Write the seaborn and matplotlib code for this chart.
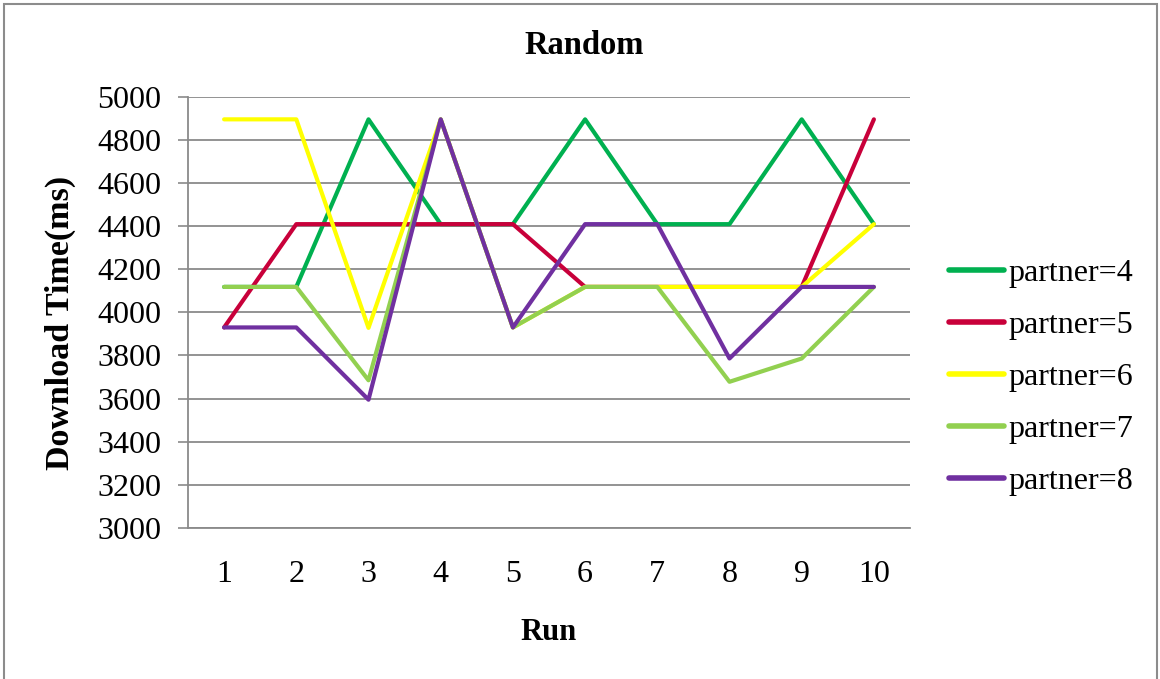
import matplotlib
matplotlib.use("Agg")
import matplotlib.pyplot as plt
from matplotlib.patches import Rectangle
import pandas as pd
import seaborn as sns

# Download time per run for each partner count
runs = [1, 2, 3, 4, 5, 6, 7, 8, 9, 10]
partner_4 = [4118, 4118, 4895, 4409, 4409, 4895, 4409, 4409, 4895, 4409]
partner_5 = [3930, 4409, 4409, 4409, 4409, 4118, 4118, 4118, 4118, 4895]
partner_6 = [4895, 4895, 3928, 4895, 3930, 4118, 4118, 4118, 4118, 4409]
partner_7 = [4118, 4118, 3685, 4895, 3930, 4118, 4118, 3678, 3786, 4118]
partner_8 = [3930, 3930, 3595, 4895, 3930, 4409, 4409, 3786, 4118, 4118]

series_names = ["partner=4", "partner=5", "partner=6", "partner=7", "partner=8"]
series_values = [partner_4, partner_5, partner_6, partner_7, partner_8]
colors = ["#00B050", "#C8003A", "#FFFF00", "#92D050", "#7030A0"]

y_ticks = [3000, 3200, 3400, 3600, 3800, 4000, 4200, 4400, 4600, 4800, 5000]

df = pd.DataFrame(
    [(r, name, v) for name, vals in zip(series_names, series_values) for r, v in zip(runs, vals)],
    columns=["Run", "partner", "time"],
)

sns.set_theme(style="white")
plt.rcParams["font.family"] = ["Liberation Serif", "DejaVu Serif"]
plt.rcParams["text.color"] = "black"

W, H = 1160, 679
fig = plt.figure(figsize=(W / 100, H / 100), dpi=100)
fig.patch.set_facecolor("white")

left, right, top, bottom = 188, 910, 96.7, 528
ax = fig.add_axes([left / W, 1 - bottom / H, (right - left) / W, (bottom - top) / H])

sns.lineplot(
    data=df, x="Run", y="time", hue="partner", hue_order=series_names,
    palette=colors, linewidth=3, ax=ax, legend=True, solid_capstyle="round",
)

grid_color = "#8a8a8a"
ax.set_xlim(0.5, 10.5)
ax.set_ylim(3000, 5000)
ax.set_xticks(runs)
ax.set_xticklabels([str(r) for r in runs])
ax.set_yticks(y_ticks)
ax.set_yticklabels([str(t) for t in y_ticks])
ax.yaxis.grid(True, color=grid_color, linewidth=1.3)
ax.set_axisbelow(True)
for side in ["top", "right"]:
    ax.spines[side].set_visible(False)
ax.spines["left"].set_color(grid_color)
ax.spines["left"].set_linewidth(1.3)
ax.spines["bottom"].set_color(grid_color)
ax.spines["bottom"].set_linewidth(1.3)
ax.tick_params(axis="y", which="both", left=True, length=7, width=1.2,
               color=grid_color, pad=12, labelsize=23, labelcolor="black")
ax.tick_params(axis="x", which="both", bottom=False, length=0, pad=23,
               labelsize=23, labelcolor="black")
ax.set_xlabel("")
ax.set_ylabel("")

leg = ax.legend(
    loc="center left", bbox_to_anchor=(949 / W, 1 - 377.5 / H),
    bbox_transform=fig.transFigure, frameon=False, fontsize=23,
    handlelength=1.72, handletextpad=0.14, labelspacing=0.71,
    borderpad=0, borderaxespad=0,
)
for text in leg.get_texts():
    text.set_color("black")
for line in leg.get_lines():
    line.set_linewidth(4)

fig.text(584 / W, 1 - 45 / H, "Random", ha="center", va="center",
         fontsize=23.5, fontweight="bold", color="black")
fig.text(60 / W, 1 - 323 / H, "Download Time(ms)", ha="center", va="center",
         rotation=90, fontsize=24.5, fontweight="bold", color="black")
fig.text(549 / W, 1 - 632 / H, "Run", ha="center", va="center",
         fontsize=22, fontweight="bold", color="black")

# Outer chart frame
fig.patches.append(Rectangle((4 / W, -0.02), 1153 / W, 1.02 - 4 / H,
                             transform=fig.transFigure, fill=False,
                             edgecolor="#8c8c8c", linewidth=1.5))

fig.savefig("out.png", dpi=100, facecolor="white")
